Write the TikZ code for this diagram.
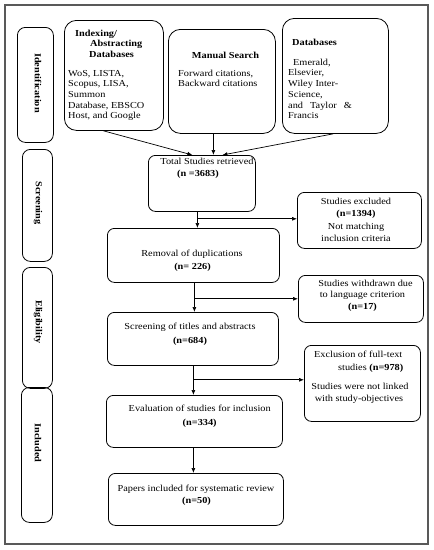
\documentclass[tikz,border=0pt]{standalone}
\usepackage{fontspec}
\setmainfont[FakeStretch=1.12]{Liberation Serif}
\usetikzlibrary{arrows.meta}
\begin{document}
\begin{tikzpicture}[x=1pt,y=-1pt,
  frame/.style={draw=black!65,line width=1.2pt},
  side/.style={draw,line width=0.8pt,rounded corners=8pt,inner sep=0pt,anchor=north west},
  topbox/.style={draw,line width=0.8pt,rounded corners=12pt,inner sep=0pt,anchor=north west},
  mainbox/.style={draw,line width=0.8pt,rounded corners=7pt,inner sep=0pt,anchor=north west},
  sidetxt/.style={font=\fontsize{9.2}{11}\selectfont\bfseries,rotate=-90,inner sep=0pt},
  tt/.style={font=\fontsize{9.2}{11}\selectfont,inner sep=0pt,anchor=base west},
  tb/.style={font=\fontsize{9.2}{11}\selectfont\bfseries,inner sep=0pt,anchor=base west},
  ct/.style={font=\fontsize{9.2}{11}\selectfont,inner sep=0pt,anchor=base},
  cb/.style={font=\fontsize{9.2}{11}\selectfont\bfseries,inner sep=0pt,anchor=base},
  arr/.style={line width=0.7pt,-{Latex[length=5pt,width=4pt]}},
  ln/.style={line width=0.7pt}]
\useasboundingbox (0,0) rectangle (434,550);
\draw[frame] (5,5) rectangle (428,544);
% side labels
\node[side,minimum width=36pt,minimum height=115pt] (sid) at (17,27) {};
\node[side,minimum width=30pt,minimum height=112pt] (sscr) at (22,149) {};
\node[side,minimum width=30pt,minimum height=121pt] (selig) at (22,267) {};
\node[side,minimum width=31pt,minimum height=135pt] (sinc) at (21,387) {};
\node[sidetxt] (lid) at (38,83) {Identification};
\node[sidetxt] (lscr) at (38,203) {Screening};
\node[sidetxt] (lelig) at (38,322) {Eligibility};
\node[sidetxt] (linc) at (38,443) {Included};
% top boxes
\node[topbox,minimum width=99pt,minimum height=110pt] (idx) at (64,20) {};
\node[topbox,minimum width=107pt,minimum height=104pt] (man) at (168,29) {};
\node[topbox,minimum width=106pt,minimum height=115pt] (db) at (282,18) {};
\node[tb] (i1) at (75,36) {Indexing/};
\node[tb] (i2) at (90,46.5) {Abstracting};
\node[tb] (i3) at (89,57) {Databases};
\node[tt] (i4) at (68,76) {WoS, LISTA,};
\node[tt] (i5) at (68,86.5) {Scopus, LISA,};
\node[tt] (i6) at (68,97) {Summon};
\node[tt] (i7) at (68,108) {Database, EBSCO};
\node[tt] (i8) at (68,118.5) {Host, and Google};
\node[cb] (m1) at (225.5,58) {Manual Search};
\node[tt] (m2) at (178,76) {Forward citations,};
\node[tt] (m3) at (178,86.5) {Backward citations};
\node[tb] (d1) at (292,45) {Databases};
\node[tt] (d2) at (293,65) {Emerald,};
\node[tt] (d3) at (288,75.5) {Elsevier,};
\node[tt] (d4) at (288,86.5) {Wiley Inter-};
\node[tt] (d5) at (288,97) {Science,};
\node[tt] (d6) at (288,108) {and\hspace{4.5pt} Taylor\hspace{4.5pt} \&};
\node[tt] (d7) at (288,118.5) {Francis};
% main boxes
\node[mainbox,minimum width=107pt,minimum height=56pt] (tot) at (148,155) {};
\node[mainbox,minimum width=124pt,minimum height=56pt] (exc) at (297,192) {};
\node[mainbox,minimum width=172pt,minimum height=54pt] (rem) at (107,228) {};
\node[mainbox,minimum width=125pt,minimum height=47pt] (wd) at (298,275) {};
\node[mainbox,minimum width=171pt,minimum height=53pt] (scr) at (107,312) {};
\node[mainbox,minimum width=116pt,minimum height=76pt] (ft) at (304,345) {};
\node[mainbox,minimum width=176pt,minimum height=52pt] (ev) at (106,395) {};
\node[mainbox,minimum width=175pt,minimum height=52pt] (pap) at (108,473) {};
% texts
\node[ct] (t1) at (207,164) {Total Studies retrieved};
\node[cb] (t2) at (198,176) {(n =3683)};
\node[ct] (e1) at (356,204) {Studies excluded};
\node[cb] (e2) at (356,216) {(n=1394)};
\node[ct] (e3) at (356,229) {Not matching};
\node[ct] (e4) at (356,241) {inclusion criteria};
\node[ct] (r1) at (192,256) {Removal of duplications};
\node[cb] (r2) at (192.5,269) {(n= 226)};
\node[ct] (w1) at (365.5,286.5) {Studies withdrawn due};
\node[ct] (w2) at (362.5,297.5) {to language criterion};
\node[cb] (w3) at (362.5,309) {(n=17)};
\node[ct] (s1) at (190,329.5) {Screening of titles and abstracts};
\node[cb] (s2) at (190,343) {(n=684)};
\node[tt] (f1) at (314,357.5) {Exclusion of full-text};
\node[tt] (f2) at (338,370) {studies \textbf{(n=978)}};
\node[ct] (f3) at (360,389) {Studies were not linked};
\node[ct] (f4) at (359,401.5) {with study-objectives};
\node[ct] (v1) at (199.7,411.5) {Evaluation of studies for inclusion};
\node[cb] (v2) at (199.7,425) {(n=334)};
\node[ct] (p1) at (196,491) {Papers included for systematic review};
\node[cb] (p2) at (196.5,503) {(n=50)};
% connectors
\draw[arr] ([xshift=-10.5pt]idx.south) -- ([xshift=-9.5pt]tot.north);
\draw[arr] ([xshift=-8.5pt]man.south) -- ([xshift=11.5pt]tot.north);
\draw[arr] ([xshift=-2pt]db.south) -- ([xshift=20.5pt]tot.north);
\coordinate (c1) at ([xshift=-4.5pt]tot.south);
\draw[arr] (c1) -- (c1 |- rem.north);
\draw[arr] ([yshift=-7pt]c1) -- ([yshift=-7pt]c1 -| exc.west);
\coordinate (c2) at ([xshift=1pt]rem.south);
\draw[arr] (c2) -- (c2 |- scr.north);
\draw[arr] ([yshift=-16pt]c2) -- ([yshift=-16pt]c2 -| wd.west);
\coordinate (c3) at ([xshift=0.5pt]scr.south);
\draw[arr] (c3) -- (c3 |- ev.north);
\draw[arr] ([yshift=-14pt]c3) -- ([yshift=-14pt]c3 -| ft.west);
\coordinate (c4) at ([xshift=-1pt]ev.south);
\draw[arr] (c4) -- (c4 |- pap.north);
\end{tikzpicture}
\end{document}
